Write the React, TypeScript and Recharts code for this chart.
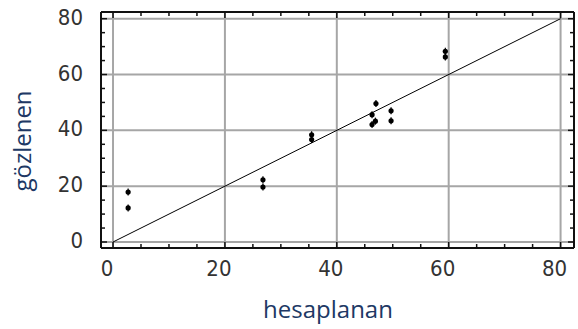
import { Label, ReferenceLine, Scatter, ScatterChart, XAxis, YAxis } from "recharts"

// hesaplanan (x) vs gözlenen (y)
const hesaplanan = [2.7, 2.7, 26.8, 26.8, 35.5, 35.5, 47.0, 46.3, 46.9, 46.3, 49.7, 49.7, 59.4, 59.4]
const gozlenen = [17.9, 12.2, 22.3, 19.7, 38.4, 36.7, 49.6, 45.6, 43.3, 42.1, 47.0, 43.4, 68.3, 66.3]

const majorTicks = [0, 20, 40, 60, 80]
const allTicks = [0, 5, 10, 15, 20, 25, 30, 35, 40, 45, 50, 55, 60, 65, 70, 75, 80]
const domain: [number, number] = [-2.15, 82.4]

const points = hesaplanan.map((x, i) => ({ x, y: gozlenen[i] }))

const tickFont = "'Liberation Sans Narrow', 'DejaVu Sans Condensed', Arial, sans-serif"
const titleFont = "'Open Sans', 'Noto Sans', sans-serif"
const titleColor = "#203864"

const isMajor = (v: number) => majorTicks.includes(v)

function BottomTick({ x, y, payload }: any) {
    const len = isMajor(payload.value) ? 6 : 4
    return (
        <g>
            <line x1={x} x2={x} y1={y} y2={y - len} stroke="#111" strokeWidth={1.5} />
            {isMajor(payload.value) && (
                <text x={x - 6} y={y + 28} textAnchor="middle" fontSize={22} fill="#333" fontFamily={tickFont}>
                    {payload.value}
                </text>
            )}
        </g>
    )
}

function TopTick({ x, y, payload }: any) {
    const len = isMajor(payload.value) ? 6 : 4
    return <line x1={x} x2={x} y1={y} y2={y + len} stroke="#111" strokeWidth={1.5} />
}

function LeftTick({ x, y, payload }: any) {
    const len = isMajor(payload.value) ? 6 : 4
    return (
        <g>
            <line x1={x} x2={x + len} y1={y} y2={y} stroke="#111" strokeWidth={1.5} />
            {isMajor(payload.value) && (
                <text x={83} y={y + 6} textAnchor="end" fontSize={22} fill="#333" fontFamily={tickFont}>
                    {payload.value}
                </text>
            )}
        </g>
    )
}

function RightTick({ x, y, payload }: any) {
    const len = isMajor(payload.value) ? 6 : 4
    return <line x1={x} x2={x - len} y1={y} y2={y} stroke="#111" strokeWidth={1.5} />
}

function Marker({ cx, cy }: any) {
    return (
        <g>
            <circle cx={cx} cy={cy} r={2.6} fill="#000" />
            <line x1={cx} x2={cx} y1={cy - 3.5} y2={cy + 3.5} stroke="#000" strokeWidth={1.2} />
        </g>
    )
}

const Empty = () => <g />

export default function App() {
    return (
        <div style={{ position: "absolute", left: 0, top: 0, background: "#fff" }}>
            <ScatterChart width={578} height={329} margin={{ top: 11, right: 3, bottom: 0, left: 0 }}>
                <XAxis
                    xAxisId="b"
                    type="number"
                    dataKey="x"
                    domain={domain}
                    ticks={allTicks}
                    interval={0}
                    height={81}
                    tickSize={0}
                    tickMargin={0}
                    tick={<BottomTick />}
                    axisLine={{ stroke: "#111", strokeWidth: 2 }}
                    allowDataOverflow
                >
                    <Label
                        content={() => (
                            <text x={328} y={318} textAnchor="middle" fontSize={24} fill={titleColor} fontFamily={titleFont}>
                                hesaplanan
                            </text>
                        )}
                    />
                </XAxis>
                <XAxis
                    xAxisId="t"
                    orientation="top"
                    type="number"
                    dataKey="x"
                    domain={domain}
                    ticks={allTicks}
                    interval={0}
                    height={1}
                    tickSize={0}
                    tickMargin={0}
                    tick={<TopTick />}
                    axisLine={{ stroke: "#111", strokeWidth: 2 }}
                    allowDataOverflow
                />
                <YAxis
                    yAxisId="l"
                    type="number"
                    dataKey="y"
                    domain={domain}
                    ticks={allTicks}
                    interval={0}
                    width={101}
                    tickSize={0}
                    tickMargin={0}
                    tick={<LeftTick />}
                    axisLine={{ stroke: "#111", strokeWidth: 2 }}
                    allowDataOverflow
                >
                    <Label
                        content={() => (
                            <text
                                x={31}
                                y={141}
                                transform="rotate(-90, 31, 141)"
                                textAnchor="middle"
                                fontSize={24}
                                fill={titleColor}
                                fontFamily={titleFont}
                            >
                                gözlenen
                            </text>
                        )}
                    />
                </YAxis>
                <YAxis
                    yAxisId="r"
                    orientation="right"
                    type="number"
                    dataKey="y"
                    domain={domain}
                    ticks={allTicks}
                    interval={0}
                    width={1}
                    tickSize={0}
                    tickMargin={0}
                    tick={<RightTick />}
                    axisLine={{ stroke: "#111", strokeWidth: 2 }}
                    allowDataOverflow
                />
                {majorTicks.map((v) => (
                    <ReferenceLine key={"vx" + v} xAxisId="b" yAxisId="l" x={v} stroke="#a6a6a6" strokeWidth={2} />
                ))}
                {majorTicks.map((v) => (
                    <ReferenceLine key={"hy" + v} xAxisId="b" yAxisId="l" y={v} stroke="#a6a6a6" strokeWidth={2} />
                ))}
                <ReferenceLine
                    xAxisId="b"
                    yAxisId="l"
                    segment={[
                        { x: 0, y: 0 },
                        { x: 80, y: 80 },
                    ]}
                    stroke="#000"
                    strokeWidth={1}
                />
                <Scatter xAxisId="t" yAxisId="r" data={points} shape={<Empty />} isAnimationActive={false} />
                <Scatter xAxisId="b" yAxisId="l" data={points} shape={<Marker />} isAnimationActive={false} />
            </ScatterChart>
        </div>
    )
}
